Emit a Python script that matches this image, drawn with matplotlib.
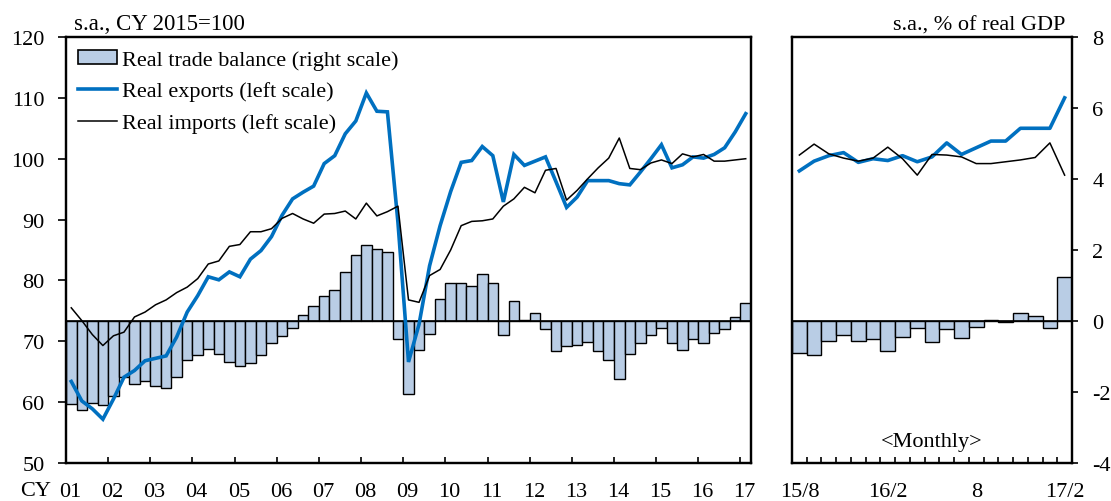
import matplotlib
matplotlib.use("Agg")
import matplotlib.pyplot as plt
import numpy as np
from matplotlib.lines import Line2D
from matplotlib.patches import Patch

plt.rcParams["font.family"] = ["Liberation Serif", "DejaVu Serif"]
plt.rcParams["font.size"] = 16
plt.rcParams["axes.unicode_minus"] = False

# quarterly, CY2001Q1 - CY2017Q1
years = [f"{y % 100:02d}" for y in range(2001, 2018)]
exports_q = [
    63.4, 60.2, 58.9, 57.2, 60.5, 64.1, 65.2, 66.8, 67.2, 67.6, 70.7, 74.8,
    77.5, 80.6, 80.1, 81.4, 80.6, 83.5, 84.9, 87.2, 90.7, 93.4, 94.5, 95.5,
    99.2, 100.5, 104.1, 106.2, 110.8, 107.8, 107.7, 89.5, 66.6, 72.8, 82.4, 89.0,
    94.6, 99.4, 99.7, 102.0, 100.5, 92.9, 100.7, 98.9, 99.6, 100.3, 96.2, 92.0,
    93.7, 96.4, 96.4, 96.4, 95.9, 95.7, 97.8, 100.0, 102.3, 98.5, 99.0, 100.3,
    100.1, 100.7, 101.8, 104.4, 107.4,
]
imports_q = [
    75.5, 73.4, 71.1, 69.3, 70.9, 71.5, 74.0, 74.8, 76.0, 76.8, 78.0, 78.9,
    80.3, 82.7, 83.2, 85.6, 85.9, 88.0, 88.0, 88.5, 90.2, 91.0, 90.1, 89.4,
    90.9, 91.0, 91.4, 90.1, 92.7, 90.6, 91.3, 92.2, 76.8, 76.4, 80.8, 81.8,
    85.0, 89.0, 89.7, 89.8, 90.1, 92.2, 93.4, 95.3, 94.4, 98.1, 98.4, 93.2,
    94.8, 96.7, 98.5, 100.1, 103.4, 98.4, 98.2, 99.3, 99.8, 99.2, 100.8, 100.3,
    100.7, 99.6, 99.6, 99.8, 100.0,
]
balance_q = [
    -2.34, -2.52, -2.32, -2.38, -2.12, -1.58, -1.78, -1.69,
    -1.83, -1.90, -1.59, -1.11, -0.97, -0.79, -0.92, -1.15,
    -1.27, -1.19, -0.95, -0.63, -0.41, -0.19, 0.16, 0.42,
    0.70, 0.86, 1.38, 1.86, 2.15, 2.04, 1.95, -0.52,
    -2.05, -0.81, -0.37, 0.63, 1.07, 1.07, 0.99, 1.31,
    1.06, -0.40, 0.56, 0.02, 0.23, -0.22, -0.85, -0.70,
    -0.69, -0.59, -0.85, -1.11, -1.62, -0.92, -0.62, -0.39,
    -0.19, -0.62, -0.82, -0.50, -0.62, -0.35, -0.22, 0.11,
    0.52,
]

# monthly, 2015/8 - 2017/2
month_labels = ["15/8", "", "", "", "", "", "16/2", "", "", "", "", "", "8",
                "", "", "", "", "", "17/2"]
exports_m = [98.0, 99.6, 100.5, 101.0, 99.4, 100.0, 99.7, 100.5, 99.5, 100.3,
             102.6, 100.7, 101.8, 102.9, 102.9, 105.0, 105.0, 105.0, 110.0]
imports_m = [100.6, 102.4, 100.8, 100.1, 99.6, 100.1, 101.9, 100.0, 97.3, 100.7,
             100.6, 100.3, 99.2, 99.2, 99.5, 99.8, 100.2, 102.6, 97.3]
balance_m = [-0.89, -0.96, -0.55, -0.39, -0.56, -0.52, -0.84, -0.45, -0.19, -0.59,
             -0.23, -0.47, -0.16, 0.02, -0.04, 0.22, 0.14, -0.21, 1.24]

BLUE = "#0070C0"
BAR = "#B9CDE5"
W, H = 1111, 502

fig = plt.figure(figsize=(W / 100, H / 100), dpi=100)


def px_rect(x0, x1, y0, y1):
    return [x0 / W, 1 - y1 / H, (x1 - x0) / W, (y1 - y0) / H]


def style_spines(a, lw=1.6):
    for s in a.spines.values():
        s.set_linewidth(lw)


# ---- left panel (quarterly) ----
ax = fig.add_axes(px_rect(66, 751, 38, 464))
axb = ax.twinx()
ax.set_zorder(axb.get_zorder() + 1)
ax.patch.set_visible(False)

xq = np.arange(len(balance_q))
axb.bar(xq, balance_q, width=1.0, color=BAR, edgecolor="black", linewidth=1.0)
axb.axhline(0, color="black", lw=1.2)
axb.set_ylim(-4, 8)
axb.tick_params(axis="y", right=False, labelright=False)

ax.plot(xq, exports_q, color=BLUE, lw=2.6, solid_joinstyle="miter")
ax.plot(xq, imports_q, color="black", lw=1.1)
ax.set_ylim(50, 120)
ax.set_yticks(range(50, 121, 10))
ax.set_xlim(-0.5, len(xq) - 0.5)
ax.tick_params(axis="y", direction="out", length=5.5, width=1.2, pad=10)

bounds = np.arange(-0.5, len(xq), 4)
ax.set_xticks(bounds)
ax.set_xticklabels([])
ax.set_xticks(bounds + 0.4, minor=True)
ax.set_xticklabels(years, minor=True)
ax.tick_params(axis="x", which="major", direction="in", length=4.5, width=1.2)
ax.tick_params(axis="x", which="minor", length=0, pad=13.5)
style_spines(ax)
style_spines(axb)

handles = [
    Patch(facecolor=BAR, edgecolor="black", linewidth=1.2,
          label="Real trade balance (right scale)"),
    Line2D([0], [0], color=BLUE, lw=2.6, label="Real exports (left scale)"),
    Line2D([0], [0], color="black", lw=1.1, label="Real imports (left scale)"),
]
ax.legend(handles=handles, loc="upper left", bbox_to_anchor=(0.018, 0.969),
          frameon=False, borderpad=0, borderaxespad=0, handlelength=1.75,
          handleheight=0.55, handletextpad=0.2, labelspacing=0.52, fontsize=16)

# ---- right panel (monthly) ----
axr = fig.add_axes(px_rect(792, 1072, 38, 464))
axrb = axr.twinx()
axr.set_zorder(axrb.get_zorder() + 1)
axr.patch.set_visible(False)

xm = np.arange(len(balance_m))
axrb.bar(xm, balance_m, width=1.0, color=BAR, edgecolor="black", linewidth=1.0)
axrb.axhline(0, color="black", lw=1.2)
axrb.set_ylim(-4, 8)
axrb.set_yticks(range(-4, 9, 2))
axrb.tick_params(axis="y", direction="out", length=4.5, width=1.2, pad=10)

axr.plot(xm, exports_m, color=BLUE, lw=2.6)
axr.plot(xm, imports_m, color="black", lw=1.1)
axr.set_ylim(50, 120)
axr.tick_params(axis="y", left=False, labelleft=False)
axr.set_xlim(-0.5, len(xm) - 0.5)
axr.set_xticks(np.arange(-0.5, len(xm), 1))
axr.set_xticklabels([])
axr.set_xticks(xm, minor=True)
axr.set_xticklabels(month_labels, minor=True)
axr.tick_params(axis="x", which="major", direction="in", length=4, width=1.2)
axr.tick_params(axis="x", which="minor", length=0, pad=13.5)
style_spines(axr)
style_spines(axrb)
axr.text(0.5, 0.04, "<Monthly>", transform=axr.transAxes, ha="center",
         va="baseline", fontsize=16)

# ---- annotations ----
fig.text(74 / W, 1 - 30.5 / H, "s.a., CY 2015=100", ha="left", va="baseline",
         fontsize=16.5)
fig.text(1065 / W, 1 - 30.5 / H, "s.a., % of real GDP", ha="right",
         va="baseline", fontsize=16)
fig.text(36 / W, 1 - 482 / H, "CY", ha="center", va="top", fontsize=16)

fig.savefig("out.png", dpi=100)
